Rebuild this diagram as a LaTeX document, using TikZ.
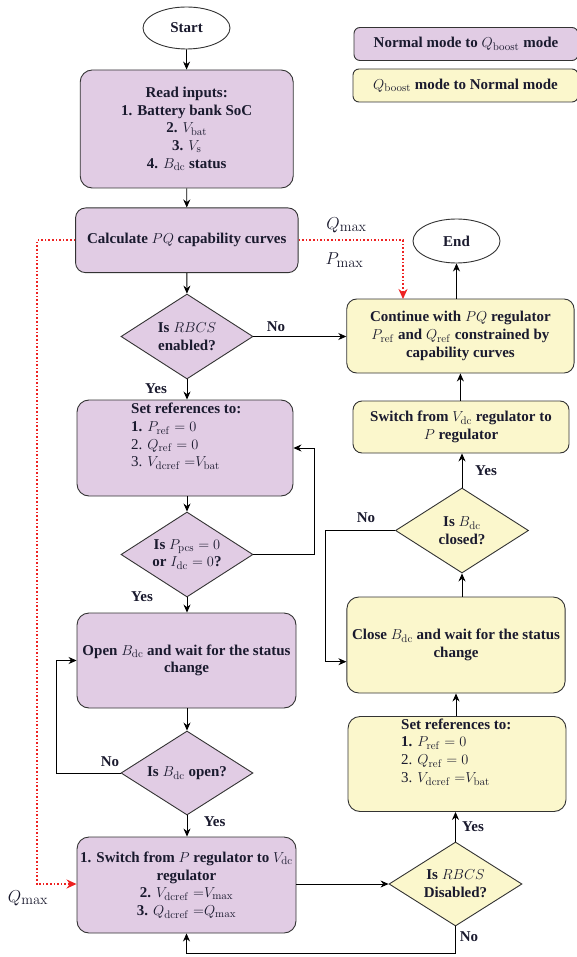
\documentclass[tikz,border=0pt]{standalone}
\usepackage[no-math]{fontspec}
\setmainfont{Liberation Serif}
\usetikzlibrary{arrows.meta,shapes.geometric}
\definecolor{pfill}{HTML}{E1CCE4}
\definecolor{yfill}{HTML}{FBF7CC}
\definecolor{edgec}{HTML}{333333}
\definecolor{txtc}{HTML}{1A1A2E}
\definecolor{redl}{HTML}{EE2222}
\begin{document}
\begin{tikzpicture}[x=1pt,y=-1pt,
  every node/.style={font=\fontsize{15}{17.7}\selectfont\bfseries, text=txtc, inner sep=0pt},
  boxbase/.style={draw=edgec, line width=0.9pt, rounded corners=12pt, align=center},
  pbox/.style={boxbase, fill=pfill},
  ybox/.style={boxbase, fill=yfill},
  pdia/.style={diamond, draw=edgec, line width=0.9pt, fill=pfill},
  ydia/.style={diamond, draw=edgec, line width=0.9pt, fill=yfill},
  term/.style={ellipse, draw=edgec, line width=0.9pt, fill=white},
  arr/.style={draw=black, line width=0.8pt, -{Stealth[length=8pt,width=7pt]}},
  reddot/.style={draw=redl, line width=1.6pt, dash pattern=on 1.6pt off 2pt, -{Stealth[length=10pt,width=9pt]}},
  lbl/.style={font=\fontsize{15}{17.7}\selectfont\bfseries},
  mlbl/.style={font=\fontsize{19}{22}\selectfont}
]
\useasboundingbox (0,0) rectangle (577,957);
\clip (0,0) rectangle (577,957);

% legend
\node[pbox, rounded corners=6pt, minimum width=224pt, minimum height=33pt] (leg1) at (466,44) {Normal mode to $Q_{\mathrm{boost}}$ mode};
\node[ybox, rounded corners=6pt, minimum width=225pt, minimum height=33pt] (leg2) at (465.5,85.5) {$Q_{\mathrm{boost}}$ mode to Normal mode};

% left column
\node[term, minimum width=87pt, minimum height=42pt] (start) at (186.5,28) {Start};
\node[pbox, minimum width=213pt, minimum height=118pt] (read) at (186.7,129) {Read inputs:\\1. Battery bank SoC\\2. $V_{\mathrm{bat}}$\\3. $V_{\mathrm{s}}$\\4. $B_{\mathrm{dc}}$ status};
\node[pbox, rounded corners=10pt, minimum width=222.5pt, minimum height=64.7pt] (calc) at (186.8,240.3) {Calculate $PQ$ capability curves};
\node[pdia, minimum width=132pt, minimum height=85pt, label={[align=center]center:Is $RBCS$\\enabled?}] (d1) at (187,336.5) {};
\node[pbox, minimum width=216pt, minimum height=96pt] (sr1) at (185,448) {};
\node[align=left, anchor=north west] (sr1t) at (131,403) {Set references to:\\1. \mdseries$P_{\mathrm{ref}}=0$\\\mdseries 2. $Q_{\mathrm{ref}}=0$\\\mdseries 3. $V_{\mathrm{dcref}}\;{=}V_{\mathrm{bat}}$};
\node[pdia, minimum width=132pt, minimum height=85pt, label={[align=center]center:Is $P_{\mathrm{pcs}}=0$\\or $I_{\mathrm{dc}}=0$?}] (d2) at (187,554.5) {};
\node[pbox, minimum width=219pt, minimum height=95pt] (open) at (186.5,660.5) {Open $B_{\mathrm{dc}}$ and wait for the status\\change};
\node[pdia, minimum width=132pt, minimum height=84pt, label={[align=center]center:Is $B_{\mathrm{dc}}$ open?}] (d4) at (187,773) {};
\node[pbox, minimum width=219pt, minimum height=96pt] (swp) at (186.5,885) {1. Switch from $P$ regulator to $V_{\mathrm{dc}}$\\regulator\\2. $V_{\mathrm{dcref}}\;{=}V_{\max}$\\3. $Q_{\mathrm{dcref}}\;{=}Q_{\max}$};

% right column
\node[term, minimum width=87pt, minimum height=44pt] (end) at (456.5,241) {End};
\node[ybox, rounded corners=10pt, minimum width=227.3pt, minimum height=74pt] (cont) at (460.4,336) {Continue with $PQ$ regulator\\$P_{\mathrm{ref}}$ and $Q_{\mathrm{ref}}$ constrained by\\capability curves};
\node[ybox, rounded corners=9pt, minimum width=216pt, minimum height=52pt] (sv) at (461,427) {Switch from $V_{\mathrm{dc}}$ regulator to\\$P$ regulator};
\node[ydia, minimum width=133pt, minimum height=85pt, label={[align=center]center:Is $B_{\mathrm{dc}}$\\closed?}] (d3) at (462,530.5) {};
\node[ybox, minimum width=218.3pt, minimum height=96pt] (close) at (456,645) {Close $B_{\mathrm{dc}}$ and wait for the status\\change};
\node[ybox, minimum width=218pt, minimum height=95pt] (sr2) at (457,764) {};
\node[align=left, anchor=north west] (sr2t) at (401,718.5) {Set references to:\\1. \mdseries$P_{\mathrm{ref}}=0$\\\mdseries 2. $Q_{\mathrm{ref}}=0$\\\mdseries 3. $V_{\mathrm{dcref}}\;{=}V_{\mathrm{bat}}$};
\node[ydia, minimum width=133pt, minimum height=84pt, label={[align=center]center:Is $RBCS$\\Disabled?}] (d5) at (455.5,884) {};

% connectors left
\draw[arr] (start) -- (read);
\draw[arr] (read) -- (calc);
\draw[arr] (calc) -- (d1);
\draw[arr] (d1.east) -- (d1.east -| cont.west);
\node[lbl] (no1) at (276,327) {No};
\draw[arr] (d1) -- (sr1.north -| d1.south);
\node[lbl] (yes1) at (156,389) {Yes};
\draw[arr] (sr1.south -| d2.north) -- (d2);
\draw[arr] (d2.east) -- (314.7,554.5) -- (314.7,448) -- (sr1.east);
\draw[arr] (d2) -- (open.north -| d2.south);
\node[lbl] (yes2) at (142,597) {Yes};
\draw[arr] (open.south -| d4.north) -- (d4);
\draw[arr] (d4.west) -- (56,773) -- (56,660.5) -- (open.west);
\node[lbl] (no4) at (110,762) {No};
\draw[arr] (d4) -- (swp.north -| d4.south);
\node[lbl] (yes4) at (214.6,821.7) {Yes};
\draw[arr] (swp.east |- d5.west) -- (d5.west);
\draw[arr] (d5.south) -- (455.5,953) -- (186.5,953) -- (swp.south);
\node[lbl] (no5) at (469,937) {No};

% connectors right
\draw[arr] (d5.north) -- (d5.north |- sr2.south);
\node[lbl] (yes5) at (473,827) {Yes};
\draw[arr] (sr2.north -| close.south) -- (close.south);
\draw[arr] (close.north -| d3.south) -- (d3.south);
\draw[arr] (d3.west) -- (325,530.5) -- (325,661.7) -- (close.west |- 0,661.7);
\node[lbl] (no3) at (366,518) {No};
\draw[arr] (d3.north) -- (d3.north |- sv.south);
\node[lbl] (yes3) at (486,471) {Yes};
\draw[arr] (sv.north -| cont.south) -- (cont.south);
\draw[arr] (cont.north -| end.south) -- (end.south);

% red dotted
\draw[reddot] (calc.west) -- (37,240.3) -- (37,884) -- (swp.west |- 0,884);
\draw[reddot] (calc.east) -- (403,240.3) -- (403,299);
\node[mlbl] (qm1) at (346.5,225) {$Q_{\max}$};
\node[mlbl] (pm1) at (344.5,260) {$P_{\max}$};
\node[mlbl] (qm2) at (28,898) {$Q_{\max}$};
\end{tikzpicture}
\end{document}
